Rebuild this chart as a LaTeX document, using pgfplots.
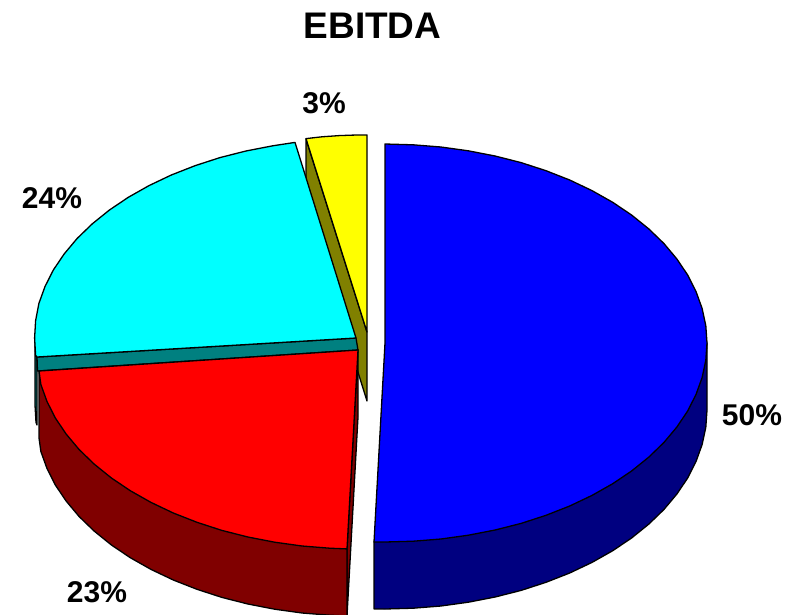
\documentclass[border=0pt]{standalone}
\usepackage{fontspec}
\setmainfont{Liberation Sans}
\usepackage{pgfplots}
\pgfplotsset{compat=1.18}
\definecolor{cblue}{HTML}{0000FF}\definecolor{dblue}{HTML}{000080}
\definecolor{cred}{HTML}{FF0000}\definecolor{dred}{HTML}{800000}
\definecolor{ccyan}{HTML}{00FFFF}\definecolor{dcyan}{HTML}{008080}
\definecolor{cyel}{HTML}{FFFF00}\definecolor{dyel}{HTML}{808000}
\begin{document}
\begin{tikzpicture}
\path[use as bounding box] (0,0) rectangle (802pt,614pt);
\begin{axis}[
  at={(0,0)}, anchor=south west,
  width=802pt, height=614pt, scale only axis,
  xmin=0, xmax=802, ymin=0, ymax=614, y dir=reverse,
  hide axis, no markers,
  every axis plot/.append style={draw=black, line width=1.3pt, line join=round, solid},
]
% yellow slice: cut face, then top
\addplot[fill=dyel] coordinates {(306,139) (306,206) (367,401) (367,332)} --cycle;
\addplot[fill=cyel] coordinates {(306,138.6) (322,136.8) (339,135.6) (353,135.1) (367,135) (367,332)} --cycle;
% cyan slice: rim, cut face, top
\addplot[fill=dcyan] coordinates {(35,338) (35,405) (36,422.3) (37,425) (37,357) (36,355.3)} --cycle;
\addplot[fill=dcyan] coordinates {(356,338) (37,357) (37.5,371) (358,350)} --cycle;
\addplot[fill=ccyan] coordinates {(356,338) (37,357) (35.6,355.3) (34.6,338) (35.6,320.7) (38.9,303.4) (45,286.5) (53.4,269.9) (64.2,253.9) (77.1,238.5) (92.2,223.9) (109.3,210.1) (128.3,197.3) (149,185.6) (171.3,175) (195,165.7) (219.9,157.6) (245.9,151) (272.7,145.8) (295,142.4)} --cycle;
% red slice: cut face, rim, top
\addplot[fill=dred] coordinates {(358,350) (358,417) (347,616) (347,549)} --cycle;
\addplot[fill=dred] coordinates {(39,371) (39,438) (40.9,451.6) (47,468.5) (55.4,485.1) (66.2,501.1) (79.1,516.5) (94.2,531.1) (111.3,544.9) (130.3,557.7) (151,569.4) (173.3,580) (197,589.3) (221.9,597.4) (247.9,604) (274.7,609.2) (302.1,613) (329.9,615.2) (347,616) (347,549)} --cycle;
\addplot[fill=cred] coordinates {(358,350) (347,548.9) (329.9,548.2) (302.1,546) (274.7,542.2) (247.9,537) (221.9,530.4) (197,522.3) (173.3,513) (151,502.4) (130.3,490.7) (111.3,477.9) (94.2,464.1) (79.1,449.5) (66.2,434.1) (55.4,418.1) (47,401.5) (40.9,384.6) (39,371)} --cycle;
% blue slice: rim, top
\addplot[fill=dblue] coordinates {(707,343) (707,410) (705.8,427.3) (702.1,444.6) (696,461.5) (687.6,478.1) (676.8,494.1) (663.9,509.5) (648.8,524.1) (631.7,537.9) (612.7,550.7) (592,562.4) (569.7,573) (546,582.3) (521.1,590.4) (495.1,597) (468.3,602.2) (440.9,606) (413.1,608.2) (385,609) (374,608.9) (374,541.9)} --cycle;
\addplot[fill=cblue] coordinates {(385,343) (385,144) (413.1,144.8) (440.9,147) (468.3,150.8) (495.1,156) (521.1,162.6) (546,170.7) (569.7,180) (592,190.6) (612.7,202.3) (631.7,215.1) (648.8,228.9) (663.9,243.5) (676.8,258.9) (687.6,274.9) (696,291.5) (702.1,308.4) (705.8,325.7) (707,343) (705.8,360.3) (702.1,377.6) (696,394.5) (687.6,411.1) (676.8,427.1) (663.9,442.5) (648.8,457.1) (631.7,470.9) (612.7,483.7) (592,495.4) (569.7,506) (546,515.3) (521.1,523.4) (495.1,530) (468.3,535.2) (440.9,539) (413.1,541.2) (385,542) (374,541.9)} --cycle;
\node[font=\fontsize{37}{44}\selectfont\bfseries] at (axis cs:372.5,26) {EBITDA};
\node[font=\fontsize{30}{36}\selectfont\bfseries] at (axis cs:324,103) {3\%};
\node[font=\fontsize{30}{36}\selectfont\bfseries] at (axis cs:52,198) {24\%};
\node[font=\fontsize{30}{36}\selectfont\bfseries] at (axis cs:752,415) {50\%};
\node[font=\fontsize{30}{36}\selectfont\bfseries] at (axis cs:97,592) {23\%};
\end{axis}
\end{tikzpicture}
\end{document}
